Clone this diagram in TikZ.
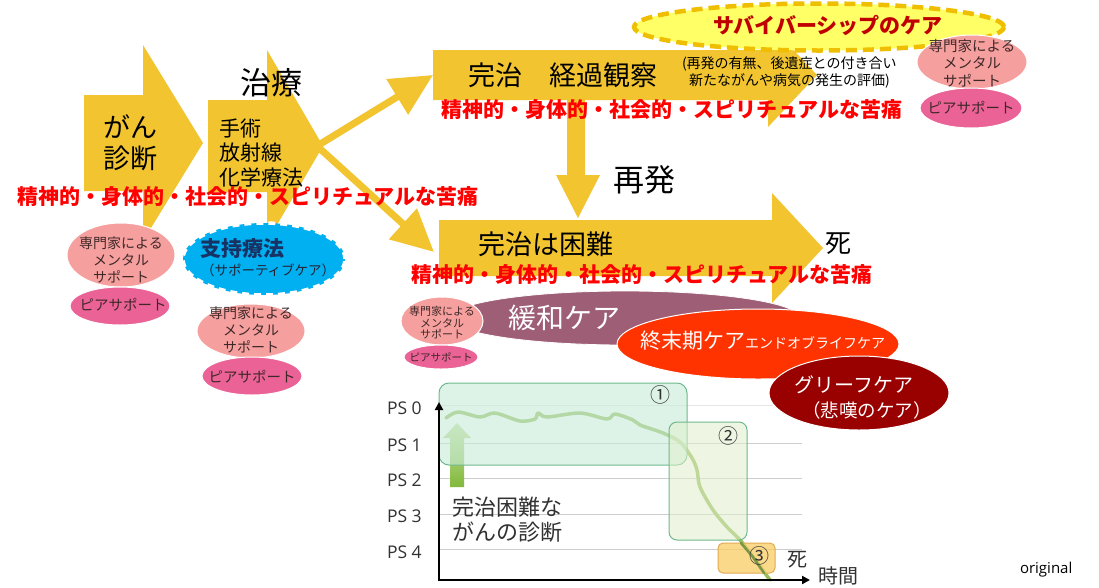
\documentclass[tikz,border=0pt]{standalone}
\usepackage{fontspec}
\setmainfont{Noto Sans CJK JP}
\newfontfamily\latinfont{Open Sans}
\usetikzlibrary{arrows.meta,shapes.geometric}
\definecolor{ayellow}{RGB}{241,196,48}
\definecolor{painred}{RGB}{255,0,0}
\definecolor{salmon}{RGB}{245,160,158}
\definecolor{peerpink}{RGB}{234,98,150}
\definecolor{supblue}{RGB}{0,176,240}
\definecolor{supnavy}{RGB}{25,50,100}
\definecolor{survyellow}{RGB}{255,255,102}
\definecolor{survdash}{RGB}{240,190,0}
\definecolor{survred}{RGB}{192,0,0}
\definecolor{mauve}{RGB}{158,94,118}
\definecolor{eolred}{RGB}{255,51,0}
\definecolor{griefred}{RGB}{153,0,0}
\definecolor{pinktxt}{RGB}{64,40,40}
\definecolor{gridgray}{RGB}{205,205,205}
\definecolor{curvegreen}{RGB}{150,188,90}
\definecolor{boxgreen}{RGB}{110,185,140}
\definecolor{boxfillA}{RGB}{200,235,215}
\definecolor{boxfillB}{RGB}{225,240,205}
\definecolor{boxorange}{RGB}{250,205,100}
\definecolor{boxorangeline}{RGB}{225,170,80}
\definecolor{charttxt}{RGB}{50,50,50}
\definecolor{upgreenA}{RGB}{200,225,165}
\definecolor{upgreenB}{RGB}{130,185,60}
\definecolor{suptxt}{RGB}{35,35,55}
\newcommand{\myfs}[2]{\fontsize{#1}{#2}\selectfont}
\tikzset{
  blockarrow/.style={fill=ayellow, draw=none},
  thinarrow/.style={draw=ayellow, line width=7pt, -{Triangle[length=42pt,width=40pt]}},
  txt/.style={inner sep=0pt, outer sep=0pt},
  ell/.style={ellipse, inner sep=0pt, outer sep=0pt},
  mental/.style={ell, fill=salmon, draw=white, line width=1pt},
  peer/.style={ell, fill=peerpink, draw=white, line width=1pt},
  pinktext/.style={txt, text=pinktxt, align=center},
  pain/.style={txt, text=painred, font=\bfseries\myfs{21}{21}},
  pslabel/.style={txt, anchor=west, text=charttxt, font=\latinfont\myfs{17.5}{17.5}},
  gridline/.style={draw=gridgray, line width=0.8pt},
}
\begin{document}
\begin{tikzpicture}[x=1pt,y=-1pt]
\useasboundingbox[fill=white] (0,0) rectangle (1099,587);

% ---------- chart grid (behind everything) ----------
\draw[gridline, draw=gridgray!50] (439,405) -- (802,405);
\foreach \yy in {443,478,514,549} { \draw[gridline] (439,\yy) -- (802,\yy); }

% ---------- block arrows ----------
\fill[blockarrow] (84,95) -- (143,95) -- (143,45) -- (203,143) -- (143,241) -- (143,191) -- (84,191) -- cycle;
\fill[blockarrow] (208,100) -- (267,100) -- (267,50) -- (323,146) -- (267,242) -- (267,192) -- (208,192) -- cycle;
\coordinate (t2) at (317,146);
\coordinate (t3) at (433,75);
\coordinate (t4) at (434,252);
\draw[thinarrow] (t2) -- (t3);
\draw[thinarrow] (t2) -- (t4);
\fill[blockarrow] (433,50) -- (768,50) -- (768,23) -- (817,75) -- (768,127) -- (768,100) -- (433,100) -- cycle;
\fill[blockarrow] (567,100) -- (585,100) -- (585,175) -- (600,175) -- (578,218) -- (556,175) -- (567,175) -- cycle;
\fill[blockarrow] (439,220) -- (772,220) -- (772,193) -- (823,248) -- (772,303) -- (772,276) -- (439,276) -- cycle;

% ---------- survivorship ----------
\node[ell, fill=survyellow, draw=survdash, line width=4.5pt, dash pattern=on 11pt off 6pt,
      minimum width=370pt, minimum height=47pt] (surv) at (819,27) {};
\node[txt, text=survred, font=\bfseries\myfs{21}{21}] (survtext) at (828,25) {サバイバーシップのケア};

% ---------- arrow texts ----------
\node[txt, anchor=west, align=left, font=\myfs{27}{31}] (diag) at (103,143) {がん\\診断};
\node[txt, font=\myfs{31}{31}] (chiryo) at (271,83) {治療};
\node[txt, anchor=west, align=left, font=\myfs{21}{24.5}] (methods) at (219,153) {手術\\放射線\\化学療法};
\node[txt, anchor=west, font=\myfs{27}{27}] (kanchi) at (468,75) {完治　経過観察};
\node[txt, anchor=west, align=left, font=\myfs{14}{17}] (followup) at (682,72) {(再発の有無、後遺症との付き合い\\\hspace*{7pt}新たながんや病気の発生の評価)};
\node[txt, font=\myfs{31}{31}] (saihatsu) at (644,180) {再発};
\node[txt, anchor=west, font=\myfs{27}{27}] (konnan) at (478,244) {完治は困難};
\node[txt, font=\myfs{26}{26}] (shi) at (838,244) {死};

% ---------- support ellipses ----------
\node[mental, minimum width=108pt, minimum height=64pt] (m1) at (121,255) {};
\node[pinktext, font=\myfs{14}{17}] (m1t) at (121,260) {専門家による\\メンタル\\サポート};
\node[peer, minimum width=100pt, minimum height=38pt] (p1) at (120,306) {};
\node[pinktext, font=\myfs{14.5}{14.5}] (p1t) at (123,305) {ピアサポート};

\node[ell, fill=supblue, draw=white, line width=3.5pt, dash pattern=on 7pt off 5pt,
      minimum width=162pt, minimum height=72pt] (sup) at (264,259) {};
\node[txt, anchor=west, text=supnavy, font=\bfseries\myfs{21}{21}] (supt) at (200,249) {支持療法};
\node[txt, anchor=west, text=suptxt, font=\myfs{13.5}{13.5}] (supt2) at (201,270) {（サポーティブケア）};

\node[mental, minimum width=108pt, minimum height=54pt] (m2) at (251,331) {};
\node[pinktext, font=\myfs{14}{17}] (m2t) at (251,330) {専門家による\\メンタル\\サポート};
\node[peer, minimum width=100pt, minimum height=38pt] (p2) at (252,376) {};
\node[pinktext, font=\myfs{14.5}{14.5}] (p2t) at (252,377) {ピアサポート};

\node[mental, minimum width=110pt, minimum height=54pt] (m4) at (972,62) {};
\node[pinktext, font=\myfs{14.5}{17.5}] (m4t) at (972,63) {専門家による\\メンタル\\サポート};
\node[peer, minimum width=102pt, minimum height=40pt] (p4) at (971,108) {};
\node[pinktext, font=\myfs{14.5}{14.5}] (p4t) at (971,108) {ピアサポート};

% ---------- palliative ----------
\node[ell, fill=mauve, draw=white, line width=0.8pt, minimum width=350pt, minimum height=54pt] (kanwa) at (625,318) {};
\node[txt, anchor=west, text=white, font=\myfs{28}{28}] (kanwat) at (508,318) {緩和ケア};
\node[mental, minimum width=82pt, minimum height=48pt] (m3) at (442,321) {};
\node[pinktext, font=\myfs{11}{11.5}] (m3t) at (442,323) {専門家による\\メンタル\\サポート};
\node[peer, minimum width=74pt, minimum height=24pt] (p3) at (441,357) {};
\node[pinktext, font=\myfs{10.5}{10.5}] (p3t) at (441,357) {ピアサポート};

\node[ell, fill=eolred, draw=white, line width=1pt, minimum width=282pt, minimum height=70pt] (eol) at (758,344) {};
\node[txt, anchor=west, text=white] (eolt) at (640,341) {\myfs{21}{21}終末期ケア\myfs{14}{14}エンドオブライフケア};
\node[ell, fill=griefred, draw=white, line width=1pt, minimum width=180pt, minimum height=74pt] (grief) at (859,393) {};
\node[txt, text=white, font=\myfs{20}{20}] (grieft) at (854,385) {グリーフケア};
\node[txt, text=white, font=\myfs{18.5}{18.5}] (grieft2) at (867,410) {（悲嘆のケア）};

% ---------- pain labels ----------
\node[pain] (pain1) at (248,197) {精神的・身体的・社会的・スピリチュアルな苦痛};
\node[pain] (pain2) at (672,110) {精神的・身体的・社会的・スピリチュアルな苦痛};
\node[pain] (pain3) at (642,275) {精神的・身体的・社会的・スピリチュアルな苦痛};

% ---------- chart ----------
\node[pslabel] (ps0) at (387,408) {PS 0};
\node[pslabel] (ps1) at (387,445) {PS 1};
\node[pslabel] (ps2) at (387,480) {PS 2};
\node[pslabel] (ps3) at (387,516) {PS 3};
\node[pslabel] (ps4) at (387,552) {PS 4};

\shade[top color=upgreenA, bottom color=upgreenB]
  (450,487) -- (450,438) -- (443,438) -- (457,423) -- (471,438) -- (464,438) -- (464,487) -- cycle;

\draw[curvegreen, line width=3.5pt, line cap=round, line join=round]
  plot[smooth, tension=0.5] coordinates {(446,418) (458,412) (480,417) (495,413) (520,421) (535,419) (538,413) (547,417) (580,413) (607,419) (615,414) (633,420) (640,425) (663,433) (680,442) (692,458) (697,470) (700,487) (713,510) (727,527) (740,540) (753,557) (770,580)};

\draw[draw=boxgreen, line width=1pt, fill=boxfillA, fill opacity=0.6, rounded corners=10pt] (439,383) rectangle (687,465);
\draw[draw=boxgreen, line width=1pt, fill=boxfillB, fill opacity=0.55, rounded corners=8pt] (669,422) rectangle (747,540);
\draw[draw=boxorangeline, line width=1pt, fill=boxorange, fill opacity=0.75, rounded corners=5pt] (718,543) rectangle (775,573);
\draw[curvegreen!80!black, line width=2.5pt, line cap=round] (741,543) -- (753,557) -- (764,573);

\node[txt, text=charttxt, font=\myfs{20}{20}] (c1) at (660,395) {①};
\node[txt, text=charttxt, font=\myfs{20}{20}] (c2) at (728,436) {②};
\node[txt, text=charttxt, font=\myfs{20}{20}] (c3) at (759,556) {③};

\draw[black, line width=2.5pt, -{Triangle[length=8pt,width=8pt]}] (439,581) -- (439,402);
\draw[black, line width=2.5pt, -{Triangle[length=8pt,width=8pt]}] (438,580) -- (810,580);

\node[txt, anchor=west, align=left, text=charttxt, font=\myfs{22}{25}] (diff) at (452,520) {完治困難な\\がんの診断};
\node[txt, text=charttxt, font=\myfs{20}{20}] (cshi) at (797,560) {死};
\node[txt, anchor=west, text=charttxt, font=\myfs{20}{20}] (jikan) at (818,576) {時間};

\node[txt, anchor=west, font=\latinfont\myfs{15}{15}] (orig) at (1020,570) {original};
\end{tikzpicture}
\end{document}
